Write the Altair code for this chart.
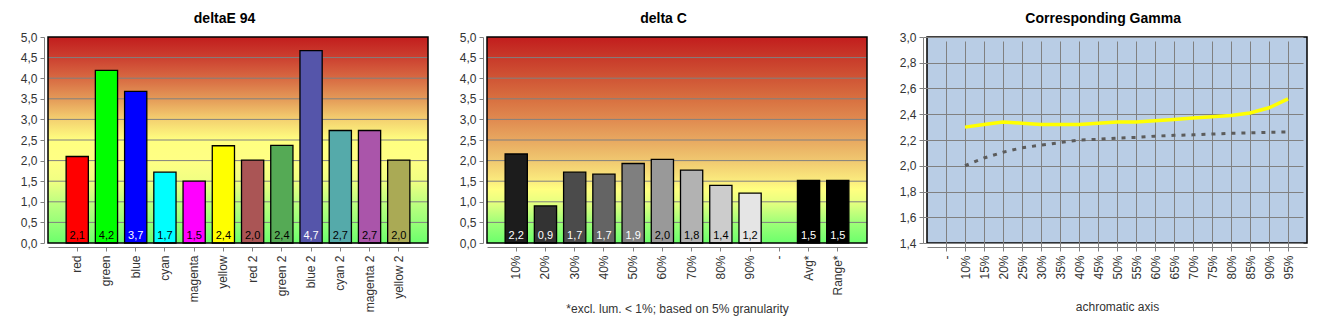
import altair as alt
import pandas as pd

# ---------------- data ----------------
de_cats = ["red", "green", "blue", "cyan", "magenta", "yellow",
           "red 2", "green 2", "blue 2", "cyan 2", "magenta 2", "yellow 2"]
de_vals = [2.10, 4.19, 3.68, 1.72, 1.50, 2.36, 2.01, 2.37, 4.67, 2.73, 2.73, 2.01]
de_colors = ["#ff0000", "#00ff00", "#0000ff", "#00ffff", "#ff00ff", "#ffff00",
             "#aa5555", "#55aa55", "#5555aa", "#55aaaa", "#aa55aa", "#aaaa55"]
de_text = ["black", "black", "white", "black", "black", "black",
           "black", "black", "white", "black", "black", "black"]

dc_cats = ["10%", "20%", "30%", "40%", "50%", "60%", "70%", "80%", "90%", "-", "Avg*", "Range*"]
dc_vals = [2.16, 0.90, 1.72, 1.67, 1.93, 2.03, 1.77, 1.40, 1.21, None, 1.52, 1.52]
dc_colors = ["#1c1c1c", "#333333", "#4b4b4b", "#646464", "#7f7f7f", "#999999",
             "#b2b2b2", "#cccccc", "#e5e5e5", "#000000", "#000000", "#000000"]
dc_text = ["white", "white", "white", "white", "white", "black",
           "black", "black", "black", "black", "white", "white"]

g_cats = ["-", "10%", "15%", "20%", "25%", "30%", "35%", "40%", "45%", "50%",
          "55%", "60%", "65%", "70%", "75%", "80%", "85%", "90%", "95%"]
g_yellow = [None, 2.30, 2.32, 2.34, 2.33, 2.32, 2.32, 2.32, 2.33, 2.34,
            2.34, 2.35, 2.36, 2.37, 2.38, 2.39, 2.41, 2.45, 2.52]
g_gray = [None, 2.00, 2.06, 2.105, 2.14, 2.16, 2.18, 2.20, 2.205, 2.215,
          2.22, 2.23, 2.236, 2.24, 2.246, 2.252, 2.255, 2.26, 2.262]

bar_ticks = [0.0, 0.5, 1.0, 1.5, 2.0, 2.5, 3.0, 3.5, 4.0, 4.5, 5.0]
gamma_ticks = [1.4, 1.6, 1.8, 2.0, 2.2, 2.4, 2.6, 2.8, 3.0]

W, H = 380, 206
FONT = "Liberation Sans"
GRID = "#808080"
LBL = "#333333"

comma = "replace(format(datum.value, '.1f'), '.', ',')"


def grad(stops):
    return alt.LinearGradient(
        gradient="linear", x1=0, x2=0, y1=0, y2=1,
        stops=[alt.GradientStop(offset=o, color=c) for o, c in stops])


left_stops = [(0.0, "#c21d1d"), (0.1, "#cc4030"), (0.2, "#d86a42"), (0.3, "#e49a58"),
              (0.4, "#f4d070"), (0.5, "#ffff80"), (0.6, "#ffff84"), (0.7, "#f0ff82"),
              (0.8, "#c0ff80"), (0.9, "#98ff78"), (1.0, "#6cff6c")]
mid_stops = [(0.0, "#c21d1d"), (0.1, "#c83a2a"), (0.2, "#d05535"), (0.3, "#d87040"),
             (0.4, "#e08a50"), (0.5, "#e8a860"), (0.6, "#f0c870"), (0.7, "#fbec7e"),
             (0.74, "#ffff80"), (0.8, "#e8ff80"), (0.9, "#a0ff78"), (1.0, "#6cff6c")]


def title(t):
    return alt.TitleParams(t, frame="bounds", anchor="middle", font=FONT, fontSize=14,
                           fontWeight="bold", color="black", offset=5)


def bar_panel(cats, vals, colors, tcolors, ttl, stops, xtitle):
    df = pd.DataFrame({"cat": cats, "val": vals, "tc": tcolors})
    df["lbl"] = [("" if v is None else format(v, ".1f").replace(".", ",")) for v in vals]
    ysc = alt.Scale(domain=[0, 5], nice=False)
    yax = alt.Axis(values=bar_ticks, labelExpr=comma, title=None, grid=False)
    xax = alt.Axis(labelAngle=-90, labelPadding=4, title=xtitle,
                   titleFont=FONT, titleFontSize=12, titleFontWeight="normal",
                   titleColor=LBL, titlePadding=8)
    xsc = alt.Scale(paddingInner=0.24, paddingOuter=0.62)
    x = alt.X("cat:N", sort=cats, scale=xsc, axis=xax)
    one = pd.DataFrame({"a": [0]})
    bg = alt.Chart(one).mark_rect(fill=grad(stops)).encode(
        x=alt.value(0), x2=alt.value(W),
        y=alt.Y(datum=5, scale=ysc, axis=yax), y2=alt.Y2(datum=0))
    grid = alt.Chart(pd.DataFrame({"t": bar_ticks[1:-1]})).mark_rule(
        color=GRID, strokeWidth=1).encode(y=alt.Y("t:Q", scale=ysc, axis=yax))
    bars = alt.Chart(df).mark_bar(stroke="black", strokeWidth=1.3).encode(
        x=x, y=alt.Y("val:Q", scale=ysc, axis=yax),
        color=alt.Color("cat:N", scale=alt.Scale(domain=cats, range=colors), legend=None))
    txt = alt.Chart(df).mark_text(font=FONT, fontSize=11, dy=-7, baseline="middle").encode(
        x=x, y=alt.Y(datum=0, scale=ysc, axis=yax), text="lbl:N",
        color=alt.Color("tc:N", scale=None))
    frame = alt.Chart(one).mark_rect(filled=False, stroke="black", strokeWidth=1.5).encode(
        x=alt.value(0), x2=alt.value(W),
        y=alt.Y(datum=5, scale=ysc, axis=yax), y2=alt.Y2(datum=0))
    return alt.layer(bg, grid, bars, txt, frame).properties(
        width=W, height=H, title=title(ttl),
        view=alt.ViewBackground(stroke=None))


c1 = bar_panel(de_cats, de_vals, de_colors, de_text, "deltaE 94", left_stops, None)
c2 = bar_panel(dc_cats, dc_vals, dc_colors, dc_text, "delta C", mid_stops,
               "*excl. lum. < 1%; based on 5% granularity")

gdf = pd.DataFrame({"cat": g_cats, "yel": g_yellow, "gry": g_gray})
gx = alt.X("cat:N", sort=g_cats, scale=alt.Scale(type="point", padding=1.42),
           axis=alt.Axis(labelAngle=-90, labelPadding=4, grid=True, title="achromatic axis",
                         titleFont=FONT, titleFontSize=12, titleFontWeight="normal",
                         titleColor=LBL, titlePadding=22))
gy_scale = alt.Scale(domain=[1.4, 3.0], nice=False)
gy_axis = alt.Axis(values=gamma_ticks, labelExpr=comma, title=None, grid=True)
l_gray = alt.Chart(gdf).mark_line(color="#5c5c5c", strokeWidth=3, strokeDash=[4, 6]).encode(
    x=gx, y=alt.Y("gry:Q", scale=gy_scale, axis=gy_axis))
l_yel = alt.Chart(gdf).mark_line(color="#ffff00", strokeWidth=3.5).encode(
    x=gx, y=alt.Y("yel:Q", scale=gy_scale, axis=gy_axis))
c3 = alt.layer(l_gray, l_yel).properties(
    width=W, height=H, title=title("Corresponding Gamma"),
    view=alt.ViewBackground(fill="#b9cde5", stroke="black", strokeWidth=1.5))

chart = alt.hconcat(c1, c2, c3, spacing=30).resolve_scale(
    color="independent", x="independent", y="independent"
).configure(
    padding={"left": 20, "top": 11, "right": 5, "bottom": 5},
    background="white"
).configure_axis(
    domainColor=GRID, tickColor=GRID, gridColor=GRID, gridWidth=1,
    labelFont=FONT, labelFontSize=12, labelColor=LBL,
    offset=4, tickSize=4, labelPadding=2
).configure_axisY(labelPadding=3)

chart.save("out.html", embed_options={"renderer": "svg", "actions": False})
